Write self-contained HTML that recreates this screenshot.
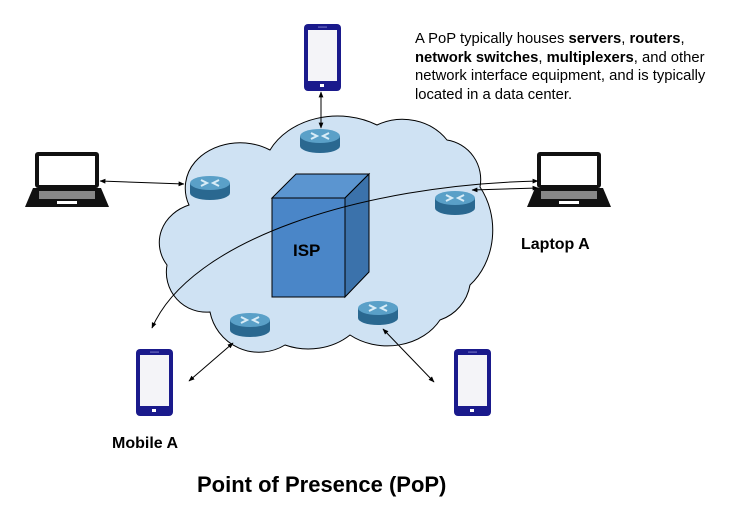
<!DOCTYPE html>
<html><head><meta charset="utf-8"><style>
html,body{margin:0;padding:0;background:#fff;}
body{width:756px;height:515px;overflow:hidden;font-family:"Liberation Sans",Arial,sans-serif;}
</style></head><body>
<svg width="756" height="515" viewBox="0 0 756 515" xmlns="http://www.w3.org/2000/svg" font-family="Liberation Sans, Arial, sans-serif">
<defs>
<marker id="a" viewBox="0 0 10 10" refX="9" refY="5" markerWidth="6" markerHeight="6" orient="auto-start-reverse"><path d="M0,1 L10,5 L0,9 z" fill="#000"/></marker>
<g id="router">
<path d="M-20,0 L-20,10 A20,7 0 0 0 20,10 L20,0 z" fill="#2a6890"/>
<ellipse cx="0" cy="0" rx="20" ry="7" fill="#5aa0c8"/>
<path d="M-9,-3 L-3,0 L-9,3 M9,-3 L3,0 L9,3" stroke="#d8ecf7" stroke-width="2" fill="none"/>
</g>
<g id="phone">
<rect x="0" y="0" width="37" height="67" rx="4" fill="#1a1a8c"/>
<rect x="4" y="6" width="29" height="51" fill="#f4f4f8"/>
<rect x="16" y="60" width="4" height="3" fill="#fff"/>
<rect x="14" y="2.5" width="9" height="1.2" fill="#6b6bc0"/>
</g>
<g id="laptop">
<rect x="10" y="0" width="64" height="36" rx="3" fill="#111"/>
<rect x="14" y="4" width="56" height="29" fill="#fff"/>
<path d="M8,36 L76,36 L84,55 L0,55 z" fill="#111"/>
<rect x="14" y="39" width="56" height="8" fill="#888"/>
<rect x="32" y="49" width="20" height="3" fill="#fff"/>
</g>
</defs>
<path d="M189,205 A40,40 0 0 1 195,162 A55,45 0 0 1 270,150 A75,60 0 0 1 377,125 A55,50 0 0 1 447,140 A40,40 0 0 1 480,187 A60,70 0 0 1 470,285 A45,45 0 0 1 440,320 A60,50 0 0 1 350,335 A60,50 0 0 1 285,345 A50,50 0 0 1 210,312 A40,40 0 0 1 167,265 A45,40 0 0 1 189,205 z" fill="#cfe2f3" stroke="#000" stroke-width="1"/>
<polygon points="272,198 296,174 369,174 345,198" fill="#5b95d0" stroke="#000"/>
<polygon points="345,198 369,174 369,272 345,297" fill="#3b72ab" stroke="#000"/>
<rect x="272" y="198" width="73" height="99" fill="#4a86c8" stroke="#000"/>
<text x="293" y="256" font-size="17" font-weight="bold">ISP</text>
<use href="#router" x="320" y="136"/>
<use href="#router" x="210" y="183"/>
<use href="#router" x="455" y="198"/>
<use href="#router" x="250" y="320"/>
<use href="#router" x="378" y="308"/>
<use href="#phone" x="304" y="24"/>
<use href="#phone" x="136" y="349"/>
<use href="#phone" x="454" y="349"/>
<use href="#laptop" x="25" y="152"/>
<use href="#laptop" x="527" y="152"/>
<g stroke="#000" stroke-width="1" fill="none">
<line x1="321" y1="92" x2="321" y2="128" marker-start="url(#a)" marker-end="url(#a)"/>
<line x1="100" y1="181" x2="184" y2="184" marker-start="url(#a)" marker-end="url(#a)"/>
<line x1="538" y1="188" x2="472" y2="190" marker-start="url(#a)" marker-end="url(#a)"/>
<path d="M152,328 C190,240 360,185 538,181" marker-start="url(#a)" marker-end="url(#a)"/>
<line x1="189" y1="381" x2="233" y2="343" marker-start="url(#a)" marker-end="url(#a)"/>
<line x1="383" y1="329" x2="434" y2="382" marker-start="url(#a)" marker-end="url(#a)"/>
</g>
<g font-size="14.8" fill="#000">
<text x="415" y="43">A PoP typically houses <tspan font-weight="bold">servers</tspan>, <tspan font-weight="bold">routers</tspan>,</text>
<text x="415" y="62"><tspan font-weight="bold">network switches</tspan>, <tspan font-weight="bold">multiplexers</tspan>, and other</text>
<text x="415" y="80">network interface equipment, and is typically</text>
<text x="415" y="99">located in a data center.</text>
</g>
<text x="521" y="249" font-size="16" font-weight="bold">Laptop A</text>
<text x="112" y="448" font-size="16" font-weight="bold">Mobile A</text>
<text x="197" y="492" font-size="22" font-weight="bold">Point of Presence (PoP)</text>
</svg>
</body></html>
